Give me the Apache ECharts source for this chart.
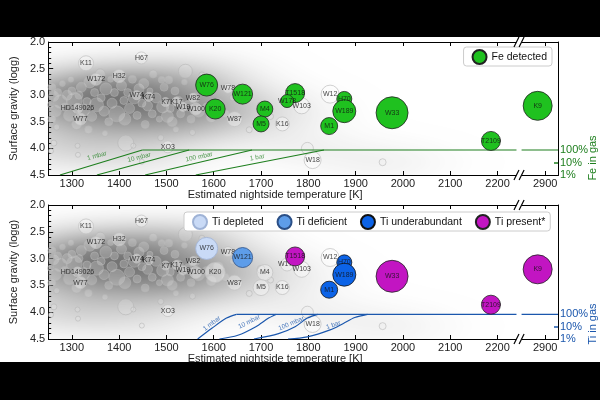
<!DOCTYPE html>
<html><head><meta charset="utf-8">
<script src="https://cdn.jsdelivr.net/npm/echarts@6/dist/echarts.min.js"></script>
<style>html,body{margin:0;padding:0;background:#fff}#c{width:600px;height:400px}</style>
</head><body><div id="c"></div>
<script>
// ---------------- data ----------------
const tempTicks = [1300,1400,1500,1600,1700,1800,1900,2000,2100,2200,2900];
const gasLevels = [1,10,100];           // percent in gas (right axis)
const pressureNames = ['1 mbar','10 mbar','100 mbar','1 bar'];

const planetNames = ['W76','W121','K20','M4','M5','T1518','W178','H70','W189','M1','W33','T2109','K9',
  'K11','H67','W172','H32','W74','K74','K7','K17','W19','W82','W100','HD149026','W77','W78','W87','K16','W103','W12','XO3','W18'];
const planetTemp = [1585,1661,1603,1708,1700,1772,1755,1876,1876,1844,1977,2186,2884,
  1330,1447,1351,1400,1437,1463,1498,1521,1535,1556,1562,1312,1318,1630,1644,1745,1786,1846,1503,1809];
const planetLogg = [2.81,2.98,3.26,3.26,3.54,2.96,3.11,3.07,3.30,3.58,3.33,3.86,3.20,
  2.40,2.30,2.70,2.64,3.00,3.03,3.13,3.12,3.22,3.05,3.26,3.25,3.45,2.87,3.45,3.54,3.20,2.98,3.97,4.22];
const planetSize = [22,20,20,16,16,19,13,15,23,17,32,19,29,
  15,12,12,13,9,9,9,9,9,9,12,10,12,10,15,14,16,18,12,17];
const feStatus = ['Fe detected','Fe detected','Fe detected','Fe detected','Fe detected','Fe detected','Fe detected',
  'Fe detected','Fe detected','Fe detected','Fe detected','Fe detected','Fe detected'];
const tiStatus = ['Ti depleted','Ti deficient','','','','Ti present*','','Ti underabundant','Ti underabundant',
  'Ti underabundant','Ti present*','Ti present*','Ti present*'];

// background population [T, logg, size]
const population = [
 [1258,2.85,8],[1262,3.02,10],[1255,3.18,6],[1265,3.30,12],[1270,2.95,8],[1275,3.12,14],[1280,2.78,6],[1285,3.22,8],
 [1290,3.00,10],[1258,3.45,8],[1268,3.60,6],[1262,3.90,6],[1256,4.05,5],[1295,3.38,12],[1300,2.92,8],[1305,3.10,16],
 [1298,2.70,6],[1310,3.55,10],[1315,3.00,8],[1320,2.85,10],[1325,3.28,12],[1332,3.12,8],[1338,2.75,12],[1342,3.40,10],
 [1348,2.95,8],[1352,3.18,14],[1360,2.60,10],[1362,3.05,8],[1368,3.30,10],[1372,2.88,12],[1378,3.50,8],[1382,2.70,6],
 [1385,3.15,10],[1390,2.95,8],[1395,3.35,16],[1312,3.95,5],[1313,4.12,5],[1335,3.65,8],[1370,3.72,6],
 [1405,2.82,10],[1410,3.10,8],[1412,3.45,12],[1414,3.90,16],[1418,2.95,8],[1422,3.25,10],[1428,2.70,8],[1432,3.05,12],
 [1438,3.38,8],[1442,2.88,10],[1448,3.15,8],[1452,2.78,10],[1455,3.55,8],[1460,3.20,10],[1465,2.92,6],[1470,3.35,8],
 [1472,2.60,8],[1478,3.05,10],[1485,3.45,6],[1488,3.80,6],[1492,3.22,12],[1495,2.85,8],[1448,4.25,5],[1430,3.95,5],
 [1502,3.40,12],[1508,3.25,8],[1512,3.50,10],[1518,2.92,8],[1525,3.12,10],[1530,3.35,8],[1538,2.75,6],[1545,3.20,10],
 [1552,3.45,8],[1560,3.05,10],[1568,3.30,12],[1575,2.90,6],[1585,3.22,8],[1595,3.42,10],[1520,3.65,6],[1555,3.70,6],
 [1610,3.15,10],[1625,3.35,8],[1640,3.05,6],[1675,3.65,6],[1700,3.20,8],[1798,4.00,12],[1957,4.26,7],[1720,3.40,6],
 [1540,2.55,14],[1575,2.62,6],[1505,2.71,8],[1490,2.71,7]
];

// condensation curves [T, logg]
const fe1mbar   = [[1275,4.5],[1449,4.03]];
const fe10mbar  = [[1353,4.5],[1548,4.03]];
const fe100mbar = [[1455,4.5],[1681,4.03]];
const fe1bar    = [[1562,4.5],[1833,4.03]];
const fe100pct  = [[1449,4.03],[2240,4.03],['-','-'],[2850,4.03],[2927,4.03]];
const ti1mbar   = [[1566,4.5],[1596,4.30],[1627,4.11],[1648,4.04]];
const ti10mbar  = [[1612,4.5],[1651,4.43],[1689,4.27],[1716,4.11],[1732,4.04]];
const ti100mbar = [[1685,4.5],[1737,4.40],[1772,4.27],[1798,4.11],[1820,4.04]];
const ti1bar    = [[1757,4.5],[1798,4.46],[1846,4.33],[1874,4.21],[1898,4.10],[1925,4.04]];
const ti100pct  = [[1648,4.04],[2240,4.04],['-','-'],[2850,4.04],[2927,4.04]];

const fePressureLabelAt = [[1353,4.14],[1442,4.17],[1569,4.16],[1692,4.17]];
const tiPressureLabelAt = [[1596,4.21],[1675,4.18],[1764,4.21],[1853,4.24]];

// ---------------- styles ----------------
const FONT = 'Liberation Sans, Arial, sans-serif';
const GREEN = '#1e7f1e', BLUE = '#1b57ad';
const feAngles = [16,14,12,10];
const tiAngles = [38,27,23,20];
const BREAK_START = 2240, BREAK_END = 2850;
const catStyle = {
  'Fe detected':      {color:'#1fc11f', borderColor:'#222'},
  'Ti depleted':      {color:'#c9daf6', borderColor:'#9fb3d6'},
  'Ti deficient':     {color:'#5e9de9', borderColor:'#2b4f86'},
  'Ti underabundant': {color:'#0c63e7', borderColor:'#111'},
  'Ti present*':      {color:'#c215c2', borderColor:'#222'}
};

// ---------------- cloud (KDE of population) ----------------
const cloudCache = {};
function buildCloud(w, h, T0, T1, G0, G1) {
  const key = w + 'x' + h;
  if (cloudCache[key]) return cloudCache[key];
  const c = document.createElement('canvas'); c.width = w; c.height = h;
  const ctx = c.getContext('2d'); const img = ctx.createImageData(w, h);
  const hT = 85, hG = 0.25, n = population.length;
  const ET = [], EG = [];
  for (let p = 0; p < n; p++) {
    const a = new Float32Array(w), b = new Float32Array(h);
    for (let i = 0; i < w; i++) { const T = T0 + (i + 0.5) / w * (T1 - T0); const z = (T - population[p][0]) / hT; a[i] = Math.exp(-0.5 * z * z); }
    for (let j = 0; j < h; j++) { const g = G0 + (j + 0.5) / h * (G1 - G0); const z = (g - population[p][1]) / hG; b[j] = Math.exp(-0.5 * z * z); }
    ET.push(a); EG.push(b);
  }
  const d = new Float32Array(w * h); let mx = 0;
  for (let j = 0; j < h; j++) for (let i = 0; i < w; i++) {
    let s = 0; for (let p = 0; p < n; p++) s += ET[p][i] * EG[p][j];
    d[j * w + i] = s; if (s > mx) mx = s;
  }
  for (let k = 0; k < w * h; k++) {
    const f = d[k] / mx; const a = 0.76 * Math.pow(f, 0.75);
    img.data[k*4] = 72; img.data[k*4+1] = 72; img.data[k*4+2] = 72; img.data[k*4+3] = Math.round(a * 255);
  }
  ctx.putImageData(img, 0, 0);
  cloudCache[key] = c; return c;
}
function cloudRender(params, api) {
  const p0 = api.coord([1250, 2.0]);
  const p1 = api.coord([BREAK_START, 4.5]);
  const w = Math.max(1, Math.round(p1[0] - p0[0])), h = Math.max(1, Math.round(p1[1] - p0[1]));
  return {type:'image', silent:true, style:{image: buildCloud(w, h, 1250, BREAK_START, 2.0, 4.5), x:p0[0], y:p0[1], width:w, height:h}};
}

// ---------------- axes ----------------
function makeX(gi, pos, bottom) {
  return {
    type:'value', gridIndex:gi, position:pos, min:1250, max:2927,
    breaks:[{start:BREAK_START, end:BREAK_END, gap:'1%'}],
    breakArea:{show:false, expandOnClick:false},
    axisLine:{show:true, onZero:false, lineStyle:{color:'#000', width:1}},
    axisTick:{show:true, inside:true, length:4, customValues:tempTicks, lineStyle:{color:'#000'}},
    axisLabel:{show:bottom, customValues:tempTicks, formatter:v => String(v), margin:3, fontSize:11, color:'#222', fontFamily:FONT},
    splitLine:{show:false},
    name: bottom ? 'Estimated nightside temperature [K]' : '',
    nameLocation:'middle', nameGap:12,
    nameTextStyle:{fontSize:11, color:'#222', fontFamily:FONT, padding:[0,56,0,0]}
  };
}
function makeY(gi) {
  return {
    type:'value', gridIndex:gi, position:'left', inverse:true, min:2, max:4.5, interval:0.5,
    axisLine:{show:true, onZero:false, lineStyle:{color:'#000'}},
    axisTick:{show:true, inside:true, length:5, lineStyle:{color:'#000'}},
    minorTick:{show:true, splitNumber:5, length:3, lineStyle:{color:'#000'}},
    axisLabel:{formatter:v => v.toFixed(1), margin:3, fontSize:11, color:'#222', fontFamily:FONT},
    splitLine:{show:false},
    name:'Surface gravity (logg)', nameLocation:'middle', nameGap:17, nameRotate:90,
    nameTextStyle:{fontSize:11, color:'#222', fontFamily:FONT}
  };
}
function makeGas(gi, max, color) {
  return {
    type:'value', gridIndex:gi, position:'right', min:0, max:max,
    axisLine:{show:true, onZero:false, lineStyle:{color:'#000'}},
    axisTick:{show:true, inside:true, length:4, customValues:[Math.log10(gasLevels[1])], lineStyle:{color:color, width:1.5}},
    axisLabel:{customValues:gasLevels.map(Math.log10), formatter:v => Math.round(Math.pow(10, v)) + '%',
      margin:2, fontSize:11, color:color, fontFamily:FONT},
    splitLine:{show:false}
  };
}

// ---------------- series ----------------
function item(n, i) { return {name:n, value:[planetTemp[i], planetLogg[i]], symbolSize:planetSize[i]}; }
const nameLabel = {show:true, position:'inside', formatter:'{b}', fontSize:7, color:'#111', fontFamily:FONT};
function panelSeries(xi, yi, statusArr, color, curves, labelAt, angles, cats) {
  const s = [];
  s.push({type:'custom', xAxisIndex:xi, yAxisIndex:yi, renderItem:cloudRender, data:[[1250,2.0]], silent:true, z:1, clip:true});
  s.push({type:'scatter', xAxisIndex:xi, yAxisIndex:yi, silent:true, z:2,
    data:population.map(p => ({value:[p[0], p[1]], symbolSize:p[2]})),
    itemStyle:{color:'rgba(236,236,236,0.3)', borderColor:'rgba(180,180,180,0.85)', borderWidth:0.8}});
  const others = [];
  planetNames.forEach((n, i) => { if (!statusArr[i]) others.push(item(n, i)); });
  s.push({type:'scatter', xAxisIndex:xi, yAxisIndex:yi, silent:true, z:3, data:others,
    itemStyle:{color:'rgba(255,255,255,0.45)', borderColor:'rgba(195,195,195,0.95)', borderWidth:1}, label:nameLabel});
  curves.forEach(c => s.push({type:'line', xAxisIndex:xi, yAxisIndex:yi, silent:true, z:4, data:c, symbol:'none',
    smooth: c.length > 2 && c[2][0] !== '-' ? 0.3 : false, connectNulls:false,
    lineStyle:{color:color, width:1.2}}));
  s.push({type:'scatter', xAxisIndex:xi, yAxisIndex:yi, silent:true, z:5, symbolSize:0,
    data: labelAt.map((p, i) => ({value:p, name:pressureNames[i], label:{rotate:angles[i]}})),
    label:{show:true, position:'inside', formatter:'{b}', fontSize:6.5, color:color, fontFamily:FONT}});
  const labelled = [];
  cats.forEach(cat => {
    const d = [];
    planetNames.forEach((n, i) => { if (statusArr[i] === cat) { d.push(item(n, i)); labelled.push(item(n, i)); } });
    s.push({type:'scatter', name:cat, xAxisIndex:xi, yAxisIndex:yi, z:6, data:d, symbol:'circle',
      itemStyle:{color:catStyle[cat].color, borderColor:catStyle[cat].borderColor, borderWidth:0.8, opacity:1}});
  });
  s.push({type:'scatter', xAxisIndex:xi, yAxisIndex:yi, silent:true, z:7, data:labelled,
    itemStyle:{color:'rgba(0,0,0,0)', borderWidth:0}, label:nameLabel});
  return s;
}

const tiCats = ['Ti depleted','Ti deficient','Ti underabundant','Ti present*'];
const series = [].concat(
  panelSeries(0, 0, feStatus, GREEN, [fe1mbar, fe10mbar, fe100mbar, fe1bar, fe100pct], fePressureLabelAt, feAngles, ['Fe detected']),
  panelSeries(2, 2, tiStatus, BLUE, [ti1mbar, ti10mbar, ti100mbar, ti1bar, ti100pct], tiPressureLabelAt, tiAngles, tiCats)
);

function legendOf(names, pos) {
  return Object.assign({
    z:20,
    data:names.map(n => ({name:n, icon:'circle'})), orient:'horizontal', itemWidth:14, itemHeight:14, itemGap:13, selectedMode:false,
    backgroundColor:'#fff', borderColor:'#ccc', borderWidth:1, borderRadius:3, padding:[2,5,1,8],
    textStyle:{fontSize:10.5, color:'#111', fontFamily:FONT}}, pos);
}

const chart = echarts.init(document.getElementById('c'), null, {renderer:'canvas'});
chart.setOption({
  backgroundColor:'#fff', animation:false,
  grid:[{left:33, top:42, width:525, height:133}, {left:33, top:205, width:525, height:134}],
  xAxis:[makeX(0,'bottom',true), makeX(0,'top',false), makeX(1,'bottom',true), makeX(1,'top',false)],
  yAxis:[makeY(0), makeGas(0, 2.5/0.235, GREEN), makeY(1), makeGas(1, 2.5/0.23, BLUE)],
  legend:[legendOf(['Fe detected'], {right:48, top:47}), legendOf(tiCats, {left:184, top:212})],
  series: series
});

// break marks "//" on the axis lines (white gap + two slashes), and the letterbox bars
const gfx = [];
[[0,42,175],[2,205,339]].forEach(([xi, yTop, yBot]) => {
  const xs = chart.convertToPixel({xAxisIndex:xi}, BREAK_START);
  const xe = chart.convertToPixel({xAxisIndex:xi}, BREAK_END);
  [yTop, yBot].forEach(y => {
    gfx.push({type:'rect', z:59, silent:true, shape:{x:xs, y:y - 1.5, width:xe - xs, height:3}, style:{fill:'#fff'}});
    [xs, xe].forEach(x => gfx.push({type:'line', z:60, silent:true,
      shape:{x1:x - 2.5, y1:y + 5, x2:x + 2.5, y2:y - 5}, style:{stroke:'#000', lineWidth:1.2}}));
  });
});
gfx.push({type:'text', x:593, y:158, rotation:Math.PI/2, z:50, silent:true,
  style:{text:'Fe in gas', font:'11px ' + FONT, fill:GREEN, align:'center', verticalAlign:'middle'}});
gfx.push({type:'text', x:593, y:324, rotation:Math.PI/2, z:50, silent:true,
  style:{text:'Ti in gas', font:'11px ' + FONT, fill:BLUE, align:'center', verticalAlign:'middle'}});
gfx.push({type:'rect', z:100, silent:true, shape:{x:0, y:0, width:600, height:37}, style:{fill:'#000'}});
gfx.push({type:'rect', z:100, silent:true, shape:{x:0, y:362, width:600, height:38}, style:{fill:'#000'}});
chart.setOption({graphic:gfx});
</script></body></html>
